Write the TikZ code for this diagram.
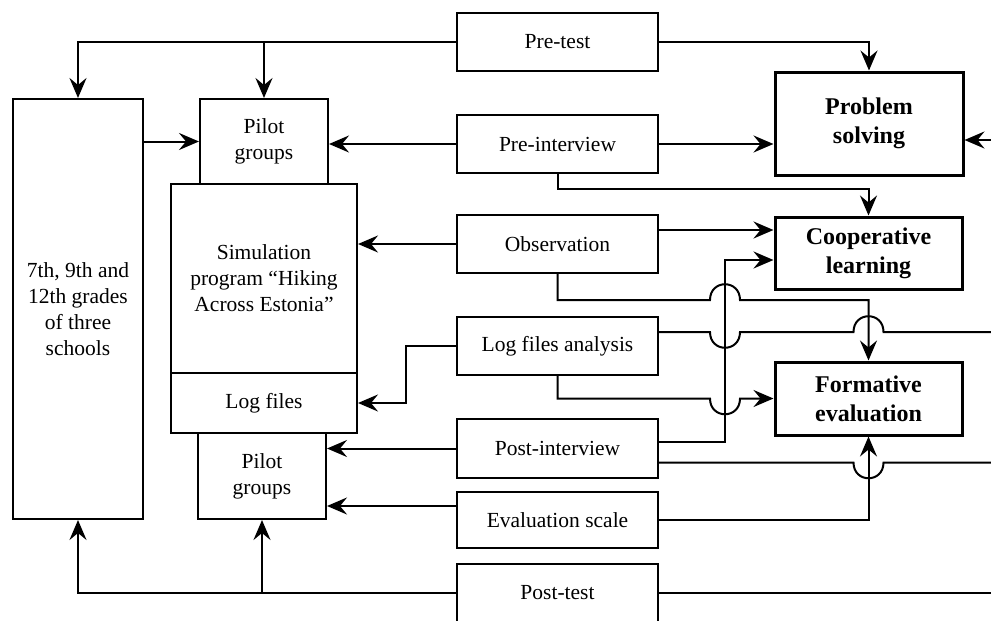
\documentclass[tikz,border=0pt]{standalone}
\usepackage{fontspec}
\setmainfont{Liberation Serif}
\usetikzlibrary{arrows.meta,calc}
\begin{document}
\begin{tikzpicture}[x=1pt,y=-1pt,
  box/.style={draw, line width=2pt, inner sep=0pt, align=center, font=\fontsize{21.5}{26}\selectfont},
  bbox/.style={draw, line width=3pt, inner sep=0pt, align=center, font=\fontsize{24}{29}\selectfont\bfseries},
  conn/.style={line width=2pt},
  arr/.style={conn, -{Stealth[length=20pt,width=17pt,inset=7pt]}},
]
\useasboundingbox[fill=white] (0,0) rectangle (991,621);

% left column
\node[box, minimum width=130, minimum height=420] (grades) at (78,309) {7th, 9th and\\12th grades\\of three\\schools};
\node[box, minimum width=128, minimum height=85] (pilot1) at (264,141.5) {Pilot\\groups};
\node[box, minimum width=186, minimum height=189] (sim) at (264,278.5) {Simulation\\program “Hiking\\Across Estonia”};
\node[box, minimum width=186, minimum height=60] (logf) at (264,403) {Log files};
\node[box, minimum width=128, minimum height=86] (pilot2) at (262,476) {Pilot\\groups};

% middle column
\node[box, minimum width=201, minimum height=58] (pretest) at (557.5,42) {Pre-test};
\node[box, minimum width=201, minimum height=58] (preint) at (557.5,144) {Pre-interview};
\node[box, minimum width=201, minimum height=58] (obs) at (557.5,244) {Observation};
\node[box, minimum width=201, minimum height=58] (lfa) at (557.5,346) {Log files analysis};
\node[box, minimum width=201, minimum height=59] (pint) at (557.5,448.5) {Post-interview};
\node[box, minimum width=201, minimum height=56] (evs) at (557.5,520) {Evaluation scale};
\node[box, minimum width=201, minimum height=58] (post) at (557.5,593) {Post-test};

% right column
\node[bbox, minimum width=188, minimum height=103] (ps) at (869,123.5) {Problem\\solving};
\node[bbox, minimum width=187, minimum height=72] (coop) at (868.5,253) {Cooperative\\learning};
\node[bbox, minimum width=187, minimum height=73] (form) at (868.5,398.5) {Formative\\evaluation};

% free ends at the right edge and helper points
\coordinate (r0) at (991,140);
\coordinate (r1) at (991,332);
\coordinate (r2) at (991,462.5);
\coordinate (r3) at (991,593);
\coordinate (rx) at (725,0);
\coordinate (o1) at ([yshift=14pt]obs.east);
\coordinate (l1) at ([yshift=14pt]lfa.east);
\coordinate (p1) at ([yshift=6.5pt]pint.east);
\coordinate (p2) at ([yshift=-14pt]pint.east);
\coordinate (e1) at ([yshift=14pt]evs.west);
\coordinate (c1) at ([yshift=-7pt]coop.west);

% pre-test
\draw[arr] (pretest.west) -| (grades.north);
\draw[arr] (pretest.west -| pilot1.north) -- (pilot1.north);
\draw[arr] (pretest.east) -| (ps.north);
\draw[arr] (grades.east |- pilot1.west) -- (pilot1.west);

% pre-interview
\draw[arr] (preint.west) -- (pilot1.east |- preint.west);
\draw[arr] (preint.east) -- (ps.west |- preint.east);
\draw[arr] (preint.south) -- ++(0,15) -| (coop.north);

% observation
\draw[arr] (obs.west) -- (sim.east |- obs.west);
\draw[arr] (o1) -- (o1 -| coop.west);
\draw[arr] (obs.south) |- (710,300) .. controls (710,279) and (740,279) .. (740,300) -| (form.north);

% log files analysis
\draw[arr] (lfa.west) -- ++(-50,0) |- (logf.east);
\draw[conn] (l1) -- (710,332) .. controls (710,353) and (740,353) .. (740,332)
  -- (853.5,332) .. controls (853.5,311) and (883.5,311) .. (883.5,332) -- (r1);
\draw[arr] (lfa.south) |- (710,398.5) .. controls (710,419.5) and (740,419.5) .. (740,398.5) -- (form.west);

% post-interview
\draw[arr] (pint.west) -- (pilot2.east |- pint.west);
\draw[arr] (p1) -- (p1 -| rx) |- (c1);
\draw[conn] (p2) -- (853.5,462.5) .. controls (853.5,483.5) and (883.5,483.5) .. (883.5,462.5) -- (r2);

% evaluation scale
\draw[arr] (e1) -- (e1 -| pilot2.east);
\draw[arr] (evs.east) -| (form.south);

% post-test
\draw[arr] (post.west) -| (grades.south);
\draw[arr] (post.west -| pilot2.south) -- (pilot2.south);
\draw[conn] (post.east) -- (r3);

% input to problem solving from the right
\draw[arr] (r0) -- (r0 -| ps.east);
\end{tikzpicture}
\end{document}
